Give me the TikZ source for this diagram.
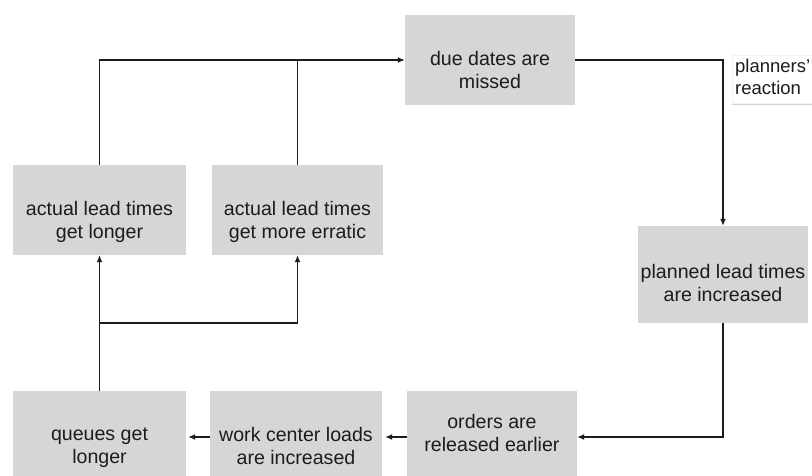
\documentclass[tikz,border=0pt]{standalone}
\usepackage{fontspec}
\setmainfont{Liberation Sans}
\usetikzlibrary{arrows.meta,shadows}
\definecolor{boxgray}{RGB}{213,214,216}
\definecolor{ink}{RGB}{28,28,28}
\begin{document}
\begin{tikzpicture}[x=1pt,y=-1pt,
	box/.style={fill=boxgray,inner sep=0pt},
	lbl/.style={text=ink,align=center,inner sep=0pt,font=\fontsize{19.6}{23}\selectfont,
		execute at begin node=\strut,execute at end node=\strut},
	note/.style={anchor=north west,text=ink,align=left,text width=90pt,inner xsep=3pt,inner ysep=2pt,
		font=\fontsize{18.5}{22}\selectfont,draw=black!5,fill=white,
		drop shadow={opacity=0.35,shadow xshift=0pt,shadow yshift=-2pt},
		execute at begin node=\strut,execute at end node=\strut},
	ln/.style={draw=ink,line width=1.3pt},
	arr/.style={ln,-{Latex[length=7pt,width=6pt]}}]
	\useasboundingbox (0,0) rectangle (812,475);
	% boxes
	\node[box,minimum width=170pt,minimum height=90pt] (due) at (490,60) {};
	\node[box,minimum width=173pt,minimum height=90pt] (long) at (99.5,210) {};
	\node[box,minimum width=171pt,minimum height=90pt] (errat) at (297.5,210) {};
	\node[box,minimum width=170pt,minimum height=97pt] (plan) at (723,274.5) {};
	\node[box,minimum width=173pt,minimum height=92pt] (queue) at (99.5,437) {};
	\node[box,minimum width=172pt,minimum height=92pt] (work) at (296,437) {};
	\node[box,minimum width=170pt,minimum height=92pt] (orders) at (492,437) {};
	% texts
	\node[lbl] (due-t) at (490,73) {due dates are\\missed};
	\node[lbl] (long-t) at (99.5,223) {actual lead times\\get longer};
	\node[lbl] (errat-t) at (297.5,223) {actual lead times\\get more erratic};
	\node[lbl] (plan-t) at (723,286) {planned lead times\\are increased};
	\node[lbl] (queue-t) at (99.5,449) {queues get\\longer};
	\node[lbl] (work-t) at (296,449) {work center loads\\are increased};
	\node[lbl] (orders-t) at (492,436) {orders are\\released earlier};
	\node[note] (react) at (732,55) {planners'\\reaction};
	% connectors
	\coordinate (jn) at (99.5,323);
	\draw[ln] (queue.north) -- (jn);
	\draw[arr] (jn) -- (long.south);
	\draw[arr] (jn) -| (errat.south);
	\draw[arr] (long.north) |- (due.west);
	\draw[ln] (errat.north) -- (errat.north |- due.west);
	\draw[arr] (due.east) -| (plan.north);
	\draw[arr] (plan.south) |- (orders.east);
	\draw[arr,shorten >=3pt] (orders.west) -- (work.east);
	\draw[arr,shorten >=2pt] (work.west) -- (queue.east);
\end{tikzpicture}
\end{document}
